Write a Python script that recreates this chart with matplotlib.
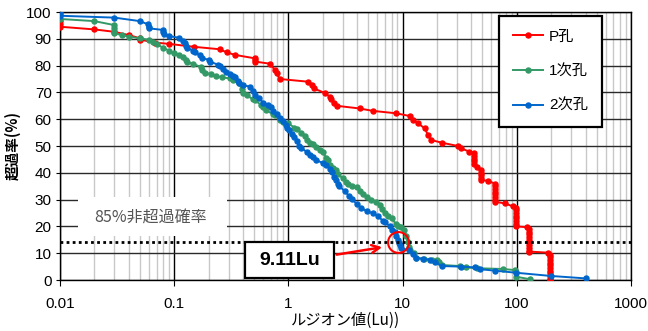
import matplotlib
matplotlib.use("Agg")
import matplotlib.pyplot as plt
from matplotlib.patches import Rectangle

plt.rcParams['font.family'] = ['Liberation Sans', 'Noto Sans CJK JP', 'DejaVu Sans']

# ---------------- data ----------------
p_x = [0.01, 0.01, 0.01, 0.02, 0.03, 0.04, 0.05, 0.05, 0.068, 0.09, 0.15, 0.25, 0.29, 0.34,
       0.51, 0.51, 0.51, 0.69, 0.76, 0.79, 0.84, 1.48, 1.6, 1.67, 2.1, 2.3, 2.35, 2.5, 2.65,
       4.2, 5.5, 8.8, 11.5, 12.4, 13.6, 15.6, 16.7, 17.9, 22.2, 30.5, 32.5, 38.5,
       41.8, 41.8, 41.8, 41.8, 41.8, 44.5,
       48.5, 48.5, 48.5, 48.5, 48.5, 56.0,
       64.0, 64.0, 64.0, 64.0, 64.0, 64.0, 64.0, 64.0, 78.5, 92.0,
       99.0, 99.0, 99.0, 99.0, 99.0, 99.0, 99.0, 99.0, 124.0,
       128.0, 128.0, 128.0, 128.0, 128.0, 128.0, 128.0, 128.0, 128.0, 128.0, 188.0,
       195.0, 195.0, 195.0, 195.0, 195.0, 195.0, 195.0, 195.0, 195.0, 195.0, 195.0]
p_y = [96.5, 95.5, 94.5, 93.5, 92.6, 91.4, 90.2, 89.7, 88.6, 88.1, 87.0, 86.1, 84.9, 84.0,
       82.7, 82.0, 81.5, 80.7, 78.4, 77.1, 75.0, 74.0, 72.8, 71.5, 69.7, 68.4, 67.4, 66.2, 65.0,
       64.0, 63.1, 62.2, 61.2, 59.7, 58.5, 56.6, 54.1, 52.2, 51.2, 50.0, 49.1, 47.9,
       47.3, 46.3, 45.3, 44.3, 43.3, 42.2,
       41.0, 40.0, 39.0, 38.0, 37.3, 37.0,
       36.0, 35.0, 34.0, 33.0, 32.0, 31.0, 30.0, 29.2, 28.6, 27.5,
       27.0, 26.0, 25.0, 24.0, 23.0, 22.0, 21.0, 20.0, 19.7,
       19.0, 18.0, 17.0, 16.0, 15.0, 14.0, 13.0, 12.0, 11.0, 10.6, 10.2,
       9.5, 8.5, 7.5, 6.5, 5.5, 4.5, 3.5, 2.5, 1.5, 0.5, 0.0]

h1_x = [0.01, 0.02, 0.03, 0.03, 0.03, 0.03, 0.035, 0.04, 0.05, 0.06, 0.065, 0.07, 0.08, 0.09,
        0.1, 0.11, 0.12, 0.128, 0.13, 0.146, 0.17, 0.174, 0.185, 0.21, 0.23, 0.26, 0.31, 0.33,
        0.37, 0.39, 0.4, 0.43, 0.49, 0.51, 0.58, 0.6, 0.64, 0.73, 0.76, 0.84, 0.9, 1.0, 1.13,
        1.2, 1.3, 1.4, 1.45, 1.54, 1.65, 1.75, 1.9, 2.0, 2.15, 2.2, 2.3, 2.45, 2.6, 2.7, 3.0,
        3.2, 3.3, 3.6, 4.0, 4.2, 4.5, 4.9, 5.3, 5.9, 6.3, 6.6, 7.0, 7.5, 8.0, 8.8, 9.1, 9.6,
        10.3, 10.8, 11.1, 11.4, 11.7, 12.7, 13.2, 15.5, 18.0, 20.0, 21.0, 22.0, 32.0, 36.0,
        44.5, 76.0, 96.0, 99.0, 99.0, 130.0]
h1_y = [97.4, 96.6, 95.1, 94.0, 93.0, 92.0, 91.4, 90.8, 90.2, 89.6, 88.8, 88.0, 86.7, 85.6,
        84.6, 84.0, 83.3, 82.0, 81.5, 80.6, 79.6, 78.4, 77.4, 76.8, 76.2, 75.6, 75.2, 74.6,
        73.4, 71.2, 69.8, 69.0, 67.4, 67.0, 65.3, 64.7, 63.4, 61.8, 61.4, 59.8, 59.1, 58.5, 56.8,
        56.2, 54.8, 53.6, 52.4, 51.2, 50.6, 49.7, 48.5, 47.6, 45.6, 44.8, 43.0, 41.8, 41.0, 39.4, 38.0,
        36.4, 36.0, 35.0, 34.6, 33.2, 32.2, 30.8, 30.0, 29.2, 27.8, 26.4, 25.0, 23.8, 23.0, 20.8, 20.2, 19.6,
        18.7, 16.5, 14.2, 12.5, 11.2, 10.0, 8.2, 7.8, 7.6, 7.5, 6.8, 5.6, 5.2, 4.7,
        4.4, 4.1, 3.7, 3.1, 1.2, 0.3]

h2_x = [0.01, 0.01, 0.01, 0.03, 0.05, 0.059, 0.06, 0.06, 0.08, 0.08, 0.082, 0.09, 0.11, 0.12,
        0.125, 0.128, 0.13, 0.146, 0.152, 0.167, 0.174, 0.2, 0.205, 0.24, 0.25, 0.27, 0.285,
        0.31, 0.33, 0.34, 0.36, 0.37, 0.4, 0.46, 0.49, 0.51, 0.55, 0.6, 0.66, 0.7, 0.73, 0.8,
        0.85, 0.9, 0.95, 0.97, 1.02, 1.07, 1.12, 1.18, 1.25, 1.3, 1.45, 1.54, 1.65, 1.75, 2.0,
        2.15, 2.3, 2.4, 2.5, 2.6, 2.7, 2.8, 3.1, 3.4, 3.6, 4.0, 4.3, 4.9, 5.5, 6.1, 6.7, 7.0,
        7.8, 8.0, 8.6, 8.8, 9.1, 9.3, 9.4, 9.7, 11.4, 12.4, 13.2, 15.0, 17.4, 19.2, 22.0, 32.5,
        43.0, 48.0, 64.0, 99.0, 200.0, 400.0]
h2_y = [100.0, 99.3, 98.6, 97.9, 96.6, 95.4, 94.5, 93.9, 93.3, 92.4, 91.7, 91.0, 90.4, 89.2,
        88.4, 87.5, 86.7, 85.5, 85.0, 83.8, 83.0, 82.1, 81.5, 80.4, 79.8, 78.8, 77.7,
        77.0, 76.2, 75.6, 74.2, 73.4, 72.6, 72.2, 70.5, 69.2, 68.0, 66.2, 65.4, 64.5, 63.2, 61.8,
        60.6, 59.4, 57.8, 56.8, 55.8, 54.6, 53.2, 51.8, 50.0, 49.2, 47.8, 46.8, 45.8, 44.8, 43.6,
        42.9, 41.6, 40.2, 38.6, 37.3, 35.8, 35.0, 33.2, 31.3, 30.2, 28.2, 27.0, 25.6, 24.9, 24.0, 22.0, 21.5,
        20.0, 18.8, 17.8, 16.5, 15.0, 13.8, 13.0, 11.8, 11.2, 9.6, 8.2, 8.0, 7.5, 6.8, 5.2, 5.0,
        4.7, 4.0, 3.5, 2.7, 1.5, 0.6]

series_labels = ['P孔', '1次孔', '2次孔']
series_colors = ['#FF0000', '#339966', '#0066CC']
x_ticks = [0.01, 0.1, 1, 10, 100, 1000]
x_ticklabels = ['0.01', '0.1', '1', '10', '100', '1000']
y_ticks = [0, 10, 20, 30, 40, 50, 60, 70, 80, 90, 100]
threshold = 14.0
lu_value = 9.11
lu_label = '9.11Lu'
note_label = '85%非超過確率'

# ---------------- figure ----------------
fig = plt.figure(figsize=(6.48, 3.31), dpi=100)
ax = fig.add_axes([60/648, 1-280/331, 571/648, 268/331])

ax.set_xscale('log')
ax.set_xlim(0.01, 1000)
ax.set_ylim(0, 100)

# grid
ax.grid(True, which='major', axis='x', color='black', lw=1.0, zorder=0)
ax.grid(True, which='minor', axis='x', color='#c8c8c8', lw=1.0, zorder=0)
ax.grid(True, which='major', axis='y', color='#2a2a2a', lw=1.0, zorder=0)
ax.set_axisbelow(True)

for xs, ys, lab, col in zip([p_x, h1_x, h2_x], [p_y, h1_y, h2_y], series_labels, series_colors):
    ax.plot(xs, ys, color=col, lw=1.4, marker='o', ms=3.6, mec=col, mfc=col, label=lab, zorder=3)

# white box with note
ax.add_patch(Rectangle((0.0315, 0.164), 0.261, 0.146, transform=ax.transAxes,
                       facecolor='white', edgecolor='none', zorder=4))
ax.text(0.158, 0.232, note_label, transform=ax.transAxes, ha='center', va='center',
        fontsize=11.5, color='#555555', family=['Noto Sans CJK JP'], zorder=5)

# threshold dotted line
ax.axhline(threshold, color='black', lw=2.0, ls=(0, (1, 1.2)), zorder=4)

# value box
ax.add_patch(Rectangle((0.324, 0.0075), 0.156, 0.1345, transform=ax.transAxes,
                       facecolor='white', edgecolor='black', lw=1.6, zorder=6))
ax.text(0.402, 0.072, lu_label, transform=ax.transAxes, ha='center', va='center',
        fontsize=14, fontweight='bold', family=['Liberation Sans Narrow', 'Liberation Sans'], zorder=7)

# arrow and circle
ax.annotate('', xy=(7.0, 12.4), xytext=(2.5, 9.3),
            arrowprops=dict(arrowstyle='->', color='red', lw=1.8, mutation_scale=14), zorder=7)
ax.plot([lu_value], [threshold], marker='o', ms=15, mfc='none', mec='red', mew=1.5, zorder=7)

# ticks
ax.set_xticks(x_ticks)
ax.set_xticklabels(x_ticklabels)
ax.set_yticks(y_ticks)
ax.tick_params(axis='x', which='major', direction='out', length=4, pad=8, labelsize=11)
ax.tick_params(axis='x', which='minor', length=0)
ax.tick_params(axis='y', direction='out', length=3, pad=3, labelsize=11)
for s in ax.spines.values():
    s.set_color('black')
    s.set_linewidth(1.0)

ax.set_xlabel('ルジオン値(Lu))', fontsize=11, family=['Noto Sans CJK JP'], labelpad=1)
ax.set_ylabel('超過率(%)', fontsize=10.5, family=['Noto Sans CJK JP'], fontweight='bold', labelpad=4)

leg = ax.legend(loc='upper left', bbox_to_anchor=(0.769, 0.985), borderaxespad=0,
                fontsize=11, handlelength=2.0, handletextpad=0.35, labelspacing=1.35,
                borderpad=0.9, fancybox=False, framealpha=1, edgecolor='black',
                prop={'family': ['Liberation Sans', 'Noto Sans CJK JP'], 'size': 11})
leg.get_frame().set_linewidth(1.6)
leg.set_zorder(8)

fig.savefig('out.png', dpi=100)
